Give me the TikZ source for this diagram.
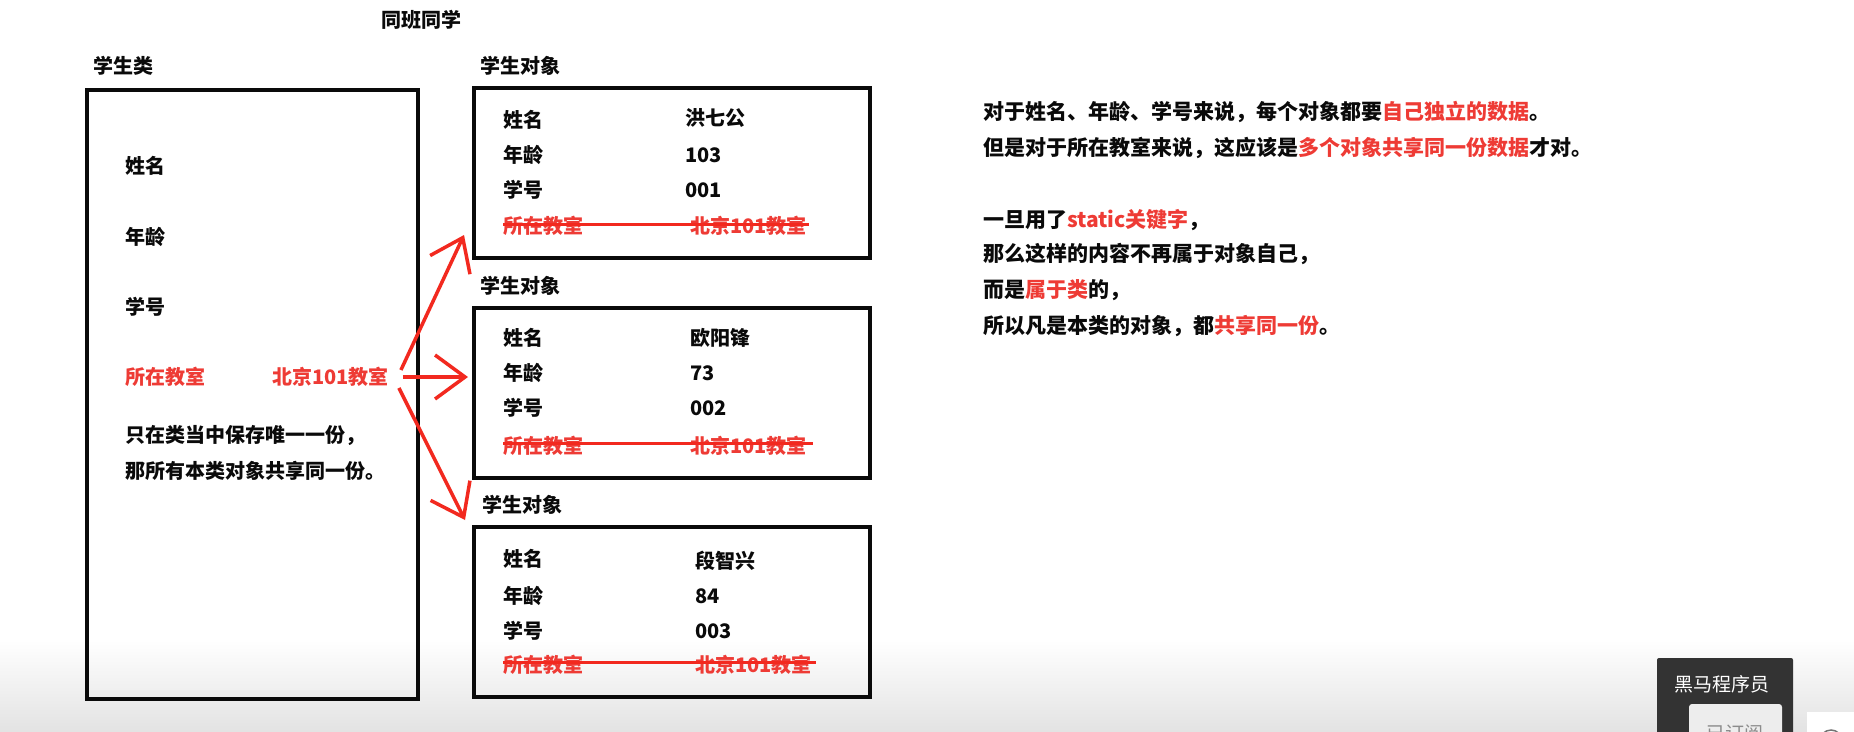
\documentclass[tikz,border=0pt]{standalone}
\usepackage{fontspec}
\setmainfont{Noto Sans CJK SC}
\usetikzlibrary{arrows.meta}
\definecolor{inkred}{HTML}{EE3B35}
\definecolor{linered}{HTML}{F2291F}
\definecolor{boxink}{HTML}{0A0A0A}
\definecolor{panel}{HTML}{333333}

\begin{document}
\begin{tikzpicture}[x=1pt,y=-1pt,
  lbl/.style={anchor=west,inner sep=0pt,text=boxink,font=\fontsize{20}{24}\selectfont\bfseries},
  redlbl/.style={lbl,text=inkred},
  note/.style={lbl,font=\fontsize{21}{24}\selectfont\bfseries},
  frame/.style={draw=boxink,line width=4pt,inner sep=0pt,minimum width=396pt,minimum height=170pt},
  pointer/.style={linered,line width=3.5pt,-{Straight Barb[length=30pt,width=44pt]}},
  strike/.style={linered,line width=3pt}]
        \clip (0,0) rectangle (1854,731);
        \fill[white] (0,0) rectangle (1854,731);
        \shade[top color=white,bottom color=black!11] (0,640) rectangle (1854,731);

        % class side
        \node[lbl] (mates) at (381,20) {同班同学};
        \node[lbl] (clstitle) at (93,66) {学生类};
        \node[draw=boxink,line width=4pt,minimum width=331pt,minimum height=609pt] (cls) at (252.5,394.5) {};
        \node[lbl] (clsname) at (125,166) {姓名};
        \node[lbl] (clsage) at (125,237) {年龄};
        \node[lbl] (clsnum) at (125,307) {学号};
        \node[redlbl] (clsroomkey) at (125,377) {所在教室};
        \node[redlbl] (clsroom) at (272,377) {北京101教室};
        \node[lbl] (clsnote1) at (125,435) {只在类当中保存唯一一份，};
        \node[lbl] (clsnote2) at (125,471) {那所有本类对象共享同一份。};

        % object 1
        \node[lbl] (objtitle1) at (480,66) {学生对象};
        \node[frame] (obj1) at (672,173) {};
        \node[lbl] (name1) at (503,120) {姓名};
        \node[lbl] (nameval1) at (685,118) {洪七公};
        \node[lbl] (age1) at (503,155) {年龄};
        \node[lbl] (ageval1) at (685,155) {103};
        \node[lbl] (num1) at (503,190) {学号};
        \node[lbl] (numval1) at (685,190) {001};
        \node[redlbl] (room1) at (503,226) {所在教室};
        \node[redlbl] (roomval1) at (690,226) {北京101教室};
        \draw[strike] ([yshift=2pt]room1.west) -- ([yshift=2pt,xshift=2pt]roomval1.east);

        % object 2
        \node[lbl] (objtitle2) at (480,286) {学生对象};
        \node[frame] (obj2) at (672,393) {};
        \node[lbl] (name2) at (503,338) {姓名};
        \node[lbl] (nameval2) at (690,338) {欧阳锋};
        \node[lbl] (age2) at (503,373) {年龄};
        \node[lbl] (ageval2) at (690,373) {73};
        \node[lbl] (num2) at (503,408) {学号};
        \node[lbl] (numval2) at (690,408) {002};
        \node[redlbl] (room2) at (503,446) {所在教室};
        \node[redlbl] (roomval2) at (690,446) {北京101教室};
        \draw[strike] ([yshift=3pt]room2.west) -- ([yshift=3pt,xshift=6pt]roomval2.east);

        % object 3
        \node[lbl] (objtitle3) at (482,505) {学生对象};
        \node[frame] (obj3) at (672,612) {};
        \node[lbl] (name3) at (503,559) {姓名};
        \node[lbl] (nameval3) at (695,561) {段智兴};
        \node[lbl] (age3) at (503,596) {年龄};
        \node[lbl] (ageval3) at (695,596) {84};
        \node[lbl] (num3) at (503,631) {学号};
        \node[lbl] (numval3) at (695,631) {003};
        \node[redlbl] (room3) at (503,665) {所在教室};
        \node[redlbl] (roomval3) at (695,665) {北京101教室};
        \draw[strike] ([yshift=3pt]room3.west) -- ([yshift=3pt,xshift=4pt]roomval3.east);

        % shared field points to every object
        \draw[pointer] ([shift={(12,-7)}]clsroom.east) -- ([shift={(-8,-25)}]obj1.south west);
        \draw[pointer] ([shift={(14,0)}]clsroom.east) -- ([shift={(-4,-16)}]obj2.west);
        \draw[pointer] ([shift={(10,11)}]clsroom.east) -- ([shift={(-7,-5)}]obj3.north west);

        % explanation
        \node[note] (line1) at (983,112) {对于姓名、年龄、学号来说，每个对象都要\textcolor{inkred}{自己独立的数据}。};
        \node[note] (line2) at (983,148) {但是对于所在教室来说，这应该是\textcolor{inkred}{多个对象共享同一份数据}才对。};
        \node[note] (line3) at (983,220) {一旦用了\textcolor{inkred}{static关键字}，};
        \node[note] (line4) at (983,254) {那么这样的内容不再属于对象自己，};
        \node[note] (line5) at (983,290) {而是\textcolor{inkred}{属于类}的，};
        \node[note] (line6) at (983,326) {所以凡是本类的对象，都\textcolor{inkred}{共享同一份}。};

        % player overlay
        \fill[panel,rounded corners=2pt] (1657,658) rectangle (1793,745);
        \node[font=\fontsize{19}{22}\selectfont,text=white,inner sep=0pt] (brand) at (1722,684) {黑马程序员};
        \fill[black!7,rounded corners=3pt] (1689,704) rectangle (1782,750);
        \node[font=\fontsize{19}{22}\selectfont,text=black!45,inner sep=0pt] (follow) at (1735,733) {已订阅};
        \fill[white] (1807,712) rectangle (1860,745);
        \draw[black!55,line width=1.5pt] (1831,741) circle (11pt);
      \end{tikzpicture}
\end{document}
